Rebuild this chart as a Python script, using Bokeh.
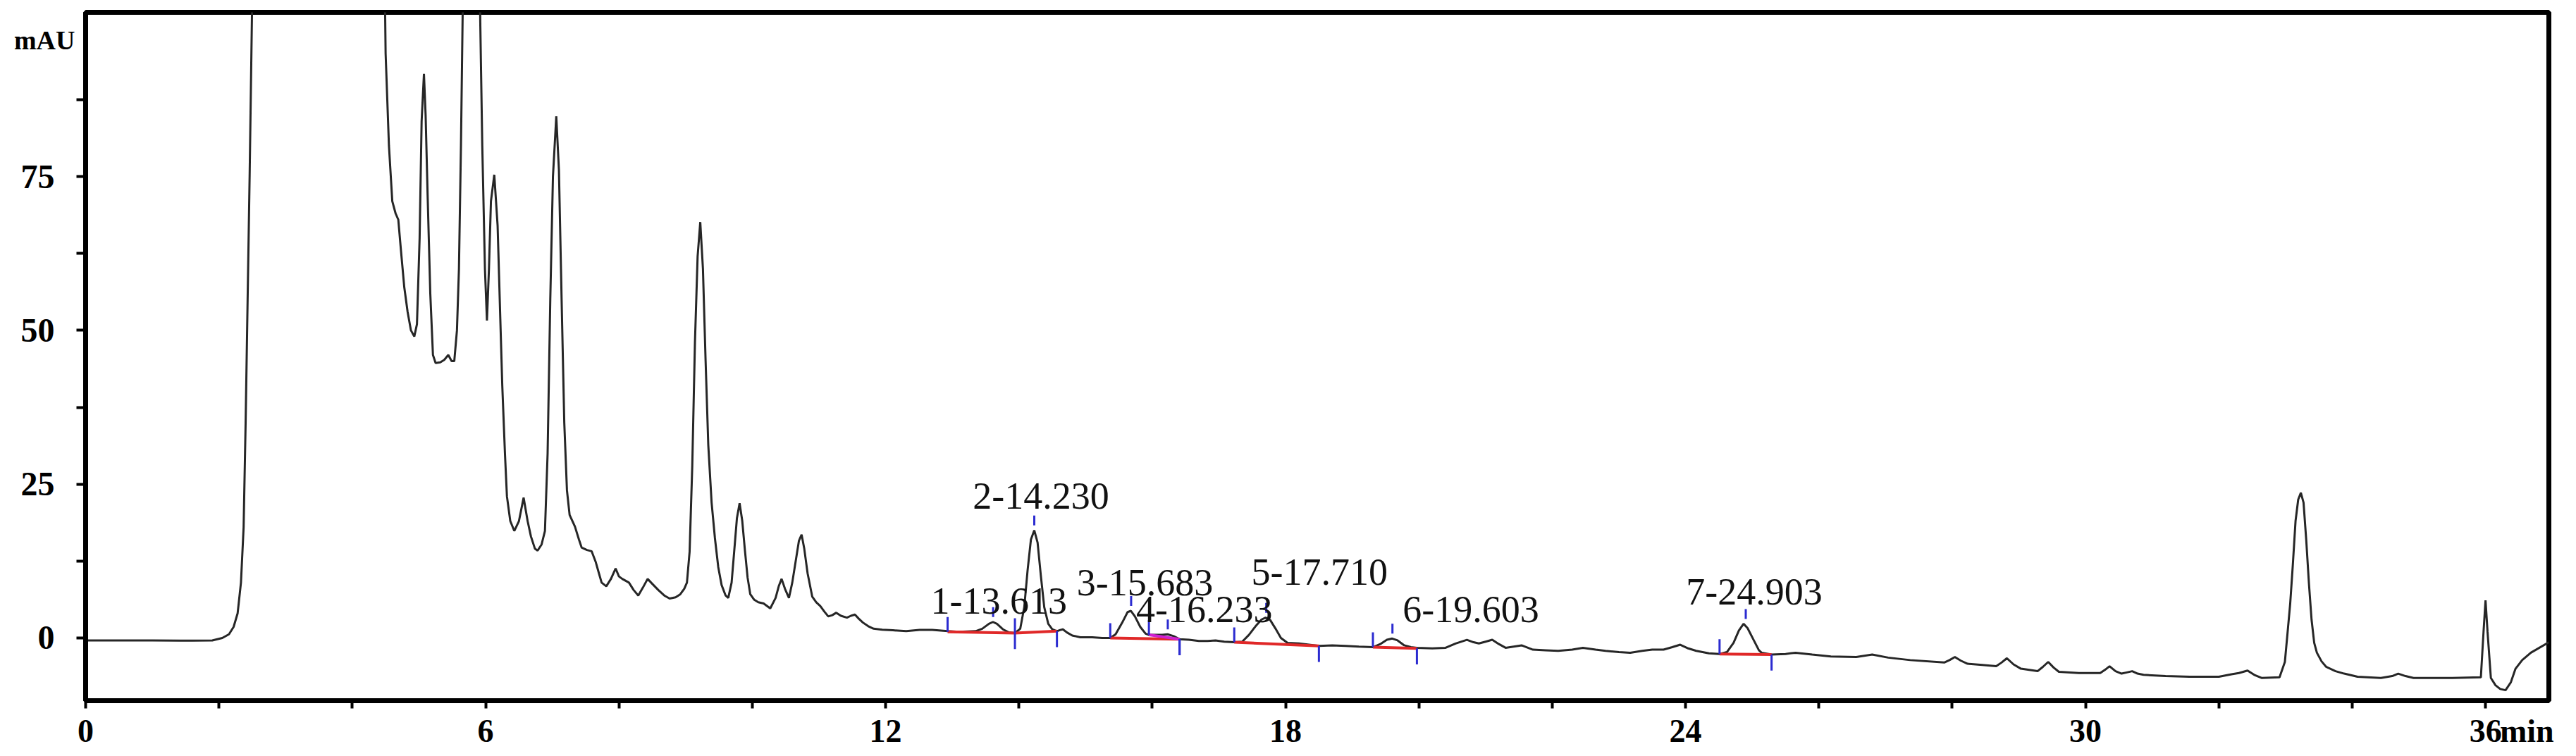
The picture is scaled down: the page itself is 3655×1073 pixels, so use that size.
from bokeh.plotting import figure
from bokeh.models import FixedTicker, ColumnDataSource
from bokeh.core.properties import value
from bokeh.embed import file_html
from bokeh.resources import INLINE

# ---- chromatogram trace (time in min, signal in mAU); values > 100 are off-scale ----
time_min = [0.0, 1.0, 1.6, 1.9, 2.05, 2.15, 2.22, 2.28, 2.33, 2.37, 2.40, 2.43, 2.46, 2.50, 2.55,
            4.45, 4.50, 4.55, 4.60, 4.65, 4.69, 4.73, 4.78, 4.83, 4.88, 4.93, 4.97, 5.01, 5.04, 5.075,
            5.10, 5.13, 5.17, 5.21, 5.25, 5.32, 5.38, 5.44, 5.49, 5.53, 5.57, 5.60, 5.63, 5.66, 5.70,
            5.88, 5.92, 5.95, 5.99, 6.02, 6.05, 6.08, 6.13, 6.18, 6.22, 6.25, 6.29, 6.32, 6.37, 6.43,
            6.50, 6.57, 6.63, 6.68, 6.74, 6.78, 6.84, 6.89, 6.93, 6.97, 7.01, 7.06, 7.10, 7.14, 7.18,
            7.22, 7.26, 7.34, 7.40, 7.44, 7.52, 7.59, 7.65, 7.70, 7.74, 7.81, 7.88, 7.95, 8.00, 8.05,
            8.15, 8.22, 8.29, 8.36, 8.43, 8.50, 8.59, 8.68, 8.76, 8.85, 8.92, 8.98, 9.02, 9.06, 9.10,
            9.14, 9.18, 9.22, 9.26, 9.30, 9.34, 9.39, 9.44, 9.49, 9.54, 9.60, 9.64, 9.69, 9.73, 9.77,
            9.81, 9.85, 9.89, 9.93, 9.97, 10.03, 10.09, 10.17, 10.27, 10.35, 10.40, 10.44, 10.49, 10.55,
            10.60, 10.65, 10.70, 10.74, 10.78, 10.83, 10.90, 10.96, 11.02, 11.08, 11.14, 11.20, 11.26,
            11.33, 11.42, 11.48, 11.54, 11.60, 11.66, 11.74, 11.82, 11.95, 12.11, 12.31, 12.51, 12.70,
            12.93, 13.10, 13.35, 13.45, 13.55, 13.61, 13.67, 13.76, 13.85, 13.94, 14.02, 14.08, 14.13,
            14.18, 14.23, 14.28, 14.33, 14.38, 14.44, 14.50, 14.57, 14.62, 14.66, 14.72, 14.80, 14.92,
            15.10, 15.25, 15.37, 15.45, 15.55, 15.63, 15.68, 15.74, 15.82, 15.90, 15.95, 16.05, 16.15,
            16.23, 16.32, 16.41, 16.55, 16.70, 16.83, 16.95, 17.08, 17.23, 17.35, 17.45, 17.55, 17.64,
            17.70, 17.77, 17.85, 17.93, 18.03, 18.20, 18.35, 18.50, 18.70, 18.90, 19.10, 19.31, 19.42,
            19.52, 19.60, 19.68, 19.78, 19.88, 19.97, 20.20, 20.40, 20.55, 20.72, 20.82, 20.90, 21.00,
            21.10, 21.20, 21.30, 21.42, 21.54, 21.71, 21.90, 22.09, 22.30, 22.46, 22.65, 22.80, 23.00,
            23.17, 23.35, 23.50, 23.67, 23.80, 23.92, 24.04, 24.16, 24.35, 24.51, 24.62, 24.72, 24.80,
            24.87, 24.93, 25.02, 25.10, 25.14, 25.29, 25.50, 25.65, 25.90, 26.18, 26.56, 26.80, 27.04,
            27.37, 27.88, 27.96, 28.04, 28.13, 28.23, 28.45, 28.66, 28.74, 28.82, 28.92, 29.03, 29.28,
            29.36, 29.44, 29.52, 29.60, 29.90, 30.22, 30.29, 30.36, 30.45, 30.54, 30.62, 30.70, 30.78,
            30.87, 31.20, 31.56, 32.00, 32.19, 32.30, 32.43, 32.53, 32.64, 32.91, 32.99, 33.04, 33.07,
            33.11, 33.15, 33.19, 33.23, 33.27, 33.31, 33.35, 33.39, 33.43, 33.47, 33.54, 33.61, 33.75,
            33.88, 34.08, 34.43, 34.60, 34.69, 34.80, 34.92, 35.50, 35.93, 35.97, 36.00, 36.03, 36.08,
            36.15, 36.22, 36.30, 36.38, 36.45, 36.55, 36.68, 36.95]
signal_mau = [-0.4, -0.4, -0.45, -0.4, 0.0, 0.6, 1.8, 4.0, 9.0, 18.0, 35.0, 55.0, 75.0, 105.0, 140.0,
              140.0, 95.0, 80.0, 71.0, 69.0, 68.0, 63.0, 57.0, 53.0, 50.0, 49.0, 51.0, 65.0, 84.0, 91.7,
              85.0, 72.0, 56.0, 46.0, 44.7, 44.8, 45.2, 46.0, 45.0, 45.0, 50.0, 60.0, 80.0, 105.0, 140.0,
              140.0, 100.0, 80.0, 60.0, 51.6, 60.0, 71.0, 75.3, 67.0, 52.0, 41.0, 30.0, 23.0, 19.0, 17.4,
              19.0, 22.8, 19.0, 16.5, 14.5, 14.2, 15.2, 17.4, 30.0, 55.0, 75.0, 84.8, 76.0, 55.0, 35.0,
              24.0, 20.0, 18.1, 16.0, 14.7, 14.3, 14.1, 12.4, 10.5, 9.0, 8.4, 9.6, 11.3, 10.0, 9.6,
              9.0, 7.8, 6.9, 8.2, 9.6, 8.8, 7.8, 6.9, 6.4, 6.6, 7.1, 8.0, 9.0, 14.0, 28.0,
              48.0, 62.0, 67.6, 60.0, 45.0, 31.4, 22.0, 16.2, 11.5, 8.6, 6.9, 6.5, 9.0, 14.2, 19.5,
              21.9, 19.0, 14.2, 9.8, 7.1, 6.2, 5.8, 5.6, 4.8, 6.5, 8.5, 9.6, 8.0, 6.5,
              9.0, 12.4, 15.8, 16.8, 14.5, 10.5, 6.7, 5.8, 5.2, 4.3, 3.5, 3.7, 4.1,
              3.6, 3.3, 3.6, 3.8, 3.1, 2.5, 1.9, 1.5, 1.35, 1.25, 1.1, 1.3, 1.3,
              1.1, 1.0, 1.1, 1.5, 2.3, 2.6, 2.3, 1.4, 0.9, 0.8, 1.5, 5.0, 11.0,
              16.0, 17.5, 15.5, 10.0, 5.0, 2.3, 1.4, 1.1, 1.3, 1.4, 0.9, 0.4, 0.1,
              0.1, 0.0, 0.0, 0.6, 2.5, 4.2, 4.4, 3.5, 1.8, 0.7, 0.5, 0.5, 0.5,
              0.6, 0.3, -0.2, -0.3, -0.5, -0.5, -0.4, -0.6, -0.7, -0.6, 0.5, 1.9, 3.0,
              3.3, 2.9, 1.5, 0.0, -0.8, -0.9, -1.1, -1.3, -1.2, -1.3, -1.4, -1.5, -1.0,
              -0.3, -0.1, -0.4, -1.2, -1.5, -1.6, -1.7, -1.6, -0.9, -0.3, -0.7, -0.9, -0.6,
              -0.3, -1.0, -1.6, -1.4, -1.2, -1.9, -2.0, -2.1, -1.9, -1.6, -1.9, -2.1, -2.3,
              -2.4, -2.1, -1.9, -1.9, -1.5, -1.1, -1.7, -2.1, -2.5, -2.6, -2.3, -0.8, 1.2,
              2.3, 1.6, -0.3, -2.0, -2.4, -2.7, -2.6, -2.4, -2.7, -3.0, -3.1, -2.7, -3.2,
              -3.6, -4.0, -3.6, -3.1, -3.7, -4.2, -4.4, -4.6, -4.0, -3.3, -4.3, -5.0, -5.4,
              -4.7, -3.9, -4.8, -5.5, -5.7, -5.7, -5.2, -4.6, -5.4, -5.8, -5.6, -5.4, -5.8,
              -6.0, -6.2, -6.3, -6.3, -5.9, -5.7, -5.3, -6.0, -6.5, -6.4, -3.9, 2.0, 5.6,
              12.0, 19.0, 22.5, 23.6, 22.0, 16.0, 9.0, 3.0, -0.8, -2.4, -3.8, -4.7, -5.4,
              -5.8, -6.3, -6.5, -6.2, -5.8, -6.2, -6.5, -6.5, -6.4, 1.0, 6.1, 1.0, -6.5,
              -7.7, -8.3, -8.5, -7.2, -5.0, -3.6, -2.4, -0.7]

# ---- integrated peaks ----
peak_names = ["1-13.613", "2-14.230", "3-15.683", "4-16.233", "5-17.710", "6-19.603", "7-24.903"]
apex_t = [13.613, 14.230, 15.683, 16.233, 17.710, 19.603, 24.903]
apex_v = [2.6, 17.5, 4.4, 0.6, 3.3, -0.1, 2.3]
label_t = [13.70, 14.33, 15.89, 16.78, 18.51, 20.78, 25.03]
label_v = [6.0, 23.1, 9.0, 4.6, 10.7, 4.6, 7.5]
start_t = [12.93, 13.94, 15.37, 15.95, 17.23, 19.31, 24.51]
start_v = [1.0, 0.8, 0.0, 0.5, -0.7, -1.5, -2.6]
end_t = [13.94, 14.57, 16.41, 16.41, 18.50, 19.97, 25.29]
end_v = [0.8, 1.1, -0.2, -0.2, -1.3, -1.7, -2.7]
baseline_colors = ["#e02828", "#e02828", "#e02828", "#d020d0", "#e02828", "#e02828", "#e02828"]

# ---- axes ----
x_label_ticks = [0, 6, 12, 18, 24, 30, 36]
x_tick_marks = [0, 2, 4, 6, 8, 10, 12, 14, 16, 18, 20, 22, 24, 26, 28, 30, 32, 34, 36]
x_unit_pos, x_unit_text = 36.62, "min"
y_label_ticks = [0, 25, 50, 75]
y_tick_marks = [0, 12.5, 25, 37.5, 50, 62.5, 75, 87.5]
y_unit_text = "mAU"

SERIF = "Liberation Serif"
BLUE = "#2b2bd0"

p = figure(width=3640, height=1065, x_range=(0, 36.95), y_range=(-10.2, 101.7),
           output_backend="svg", toolbar_location=None,
           min_border_left=121, min_border_right=24, min_border_top=17, min_border_bottom=67)
p.background_fill_color = "white"
p.border_fill_color = "white"
p.xgrid.visible = False
p.ygrid.visible = False
p.outline_line_color = "black"
p.outline_line_width = 7

p.xaxis.ticker = FixedTicker(ticks=x_label_ticks + [x_unit_pos], minor_ticks=x_tick_marks)
p.xaxis.major_label_overrides = {x_unit_pos: x_unit_text}
p.yaxis.ticker = FixedTicker(ticks=y_label_ticks, minor_ticks=y_tick_marks)

for ax in (p.xaxis, p.yaxis):
    ax.axis_line_color = "black"
    ax.axis_line_width = 7
    ax.major_tick_line_color = None
    ax.major_tick_in = 0
    ax.major_tick_out = 0
    ax.minor_tick_line_color = "black"
    ax.minor_tick_line_width = 4
    ax.minor_tick_in = 0
    ax.major_label_text_font = SERIF
    ax.major_label_text_font_style = "bold"
    ax.major_label_text_color = "black"
p.xaxis.minor_tick_out = 11
p.xaxis.major_label_standoff = 6
p.xaxis.major_label_text_font_size = "46px"
p.yaxis.minor_tick_out = 13
p.yaxis.major_label_standoff = 31
p.yaxis.major_label_text_font_size = "48px"

# unit label of the signal axis, drawn by the axis itself near its top end
p.yaxis.axis_label = "\n" + y_unit_text
p.yaxis.axis_label_orientation = "horizontal"
p.yaxis.axis_label_align = "end"
p.yaxis.axis_label_standoff = -80
p.yaxis.axis_label_text_font = SERIF
p.yaxis.axis_label_text_font_style = "bold"
p.yaxis.axis_label_text_font_size = "38px"
p.yaxis.axis_label_text_line_height = 1.9
p.yaxis.axis_label_text_color = "black"

# trace
p.line(time_min, signal_mau, line_color="#262626", line_width=3)

# integration baselines
p.segment(x0=start_t, y0=start_v, x1=end_t, y1=end_v, line_color=baseline_colors, line_width=4)

# blue markers: peak start (up), peak end (down), apex (above)
p.segment(x0=start_t, y0=start_v, x1=start_t, y1=[v + 2.4 for v in start_v], line_color=BLUE, line_width=3)
p.segment(x0=end_t, y0=end_v, x1=end_t, y1=[v - 2.6 for v in end_v], line_color=BLUE, line_width=3)
p.segment(x0=apex_t, y0=[v + 0.8 for v in apex_v], x1=apex_t, y1=[v + 2.4 for v in apex_v],
          line_color=BLUE, line_width=3)

# peak labels
src = ColumnDataSource(dict(x=label_t, y=label_v, text=peak_names))
p.text(x="x", y="y", text="text", source=src, text_font=value(SERIF), text_font_size=value("54px"),
       text_align="center", text_baseline="alphabetic", text_color="#111111")

open("out.html", "w").write(file_html(p, INLINE))
